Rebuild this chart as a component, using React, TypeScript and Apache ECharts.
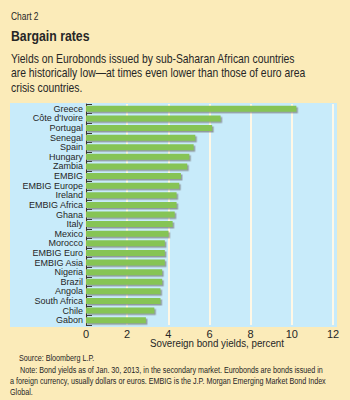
import React, { useEffect, useRef } from "react";
import * as echarts from "echarts";

const categories = [
  "Greece", "Côte d'Ivoire", "Portugal", "Senegal", "Spain", "Hungary", "Zambia",
  "EMBIG", "EMBIG Europe", "Ireland", "EMBIG Africa", "Ghana", "Italy", "Mexico",
  "Morocco", "EMBIG Euro", "EMBIG Asia", "Nigeria", "Brazil", "Angola",
  "South Africa", "Chile", "Gabon",
];
const yields = [
  10.22, 6.54, 6.13, 5.31, 5.23, 5.02, 4.92,
  4.61, 4.53, 4.4, 4.4, 4.31, 4.21, 4.01,
  3.83, 3.83, 3.83, 3.7, 3.7, 3.62,
  3.62, 3.32, 2.91,
];
const xTicks = [0, 2, 4, 6, 8, 10, 12];

const chartLabel = "Chart 2";
const titleText = "Bargain rates";
const subtitleLines = [
  "Yields on Eurobonds issued by sub-Saharan African countries",
  "are historically low\u2014at times even lower than those of euro area",
  "crisis countries.",
];
const xAxisName = "Sovereign bond yields, percent";
const sourceText = "Source: Bloomberg L.P.";
const noteLines = [
  "Note: Bond yields as of Jan. 30, 2013, in the secondary market. Eurobonds are bonds issued in",
  "a foreign currency, usually dollars or euros. EMBIG is the J.P. Morgan Emerging Market Bond Index",
  "Global.",
];

const FONT = "'Liberation Sans', Arial, sans-serif";
const TEXT = "#262626";

function txt(text: string, x: number, y: number, font: string, sx: number) {
  return {
    type: "text",
    x,
    y,
    scaleX: sx,
    style: { text, font, fill: TEXT, textVerticalAlign: "top" },
  };
}

export default function App() {
  const ref = useRef<HTMLDivElement>(null);
  useEffect(() => {
    if (!ref.current) return;
    const chart = echarts.init(ref.current, undefined, { renderer: "svg" });
    const graphics: any[] = [
      { type: "rect", shape: { x: 10, y: 103, width: 327, height: 224 }, style: { fill: "#C8EBFA" }, z: -10 },
      txt(chartLabel, 11, 11, `10.5px ${FONT}`, 0.8),
      txt(titleText, 11, 29, `bold 15px ${FONT}`, 0.82),
    ];
    subtitleLines.forEach((t, i) => {
      graphics.push(txt(t, 11, 52 + i * 14.4, `12.5px ${FONT}`, 0.83));
    });
    graphics.push(txt(sourceText, 19, 354, `9px ${FONT}`, 0.8));
    noteLines.forEach((t, i) => {
      graphics.push(txt(t, i === 0 ? 20 : 10, 366 + i * 11, `9px ${FONT}`, 0.8));
    });
    graphics.push({
      type: "text",
      x: 217,
      y: 337,
      scaleX: 0.85,
      style: { text: xAxisName, font: `11.5px ${FONT}`, fill: TEXT, textAlign: "center", textVerticalAlign: "top" },
    });
    chart.setOption({
      animation: false,
      backgroundColor: "#FBEBB9",
      graphic: graphics,
      grid: { left: 86, right: 17, top: 104, height: 221, containLabel: false },
      xAxis: {
        type: "value",
        min: 0,
        max: 12,
        interval: 2,
        axisLine: { show: false },
        axisTick: { show: false },
        axisLabel: { fontFamily: FONT, fontSize: 11, color: TEXT, margin: 3, formatter: (v: number) => (xTicks.includes(v) ? String(v) : "") },
        splitLine: { show: true, lineStyle: { color: "#FFF8E6", width: 2 } },
      },
      yAxis: {
        type: "category",
        data: categories,
        inverse: true,
        axisLine: { show: true, lineStyle: { color: "#333", width: 1.2 } },
        axisTick: { show: true, inside: true, length: 6, lineStyle: { color: "#333", width: 1 } },
        axisLabel: { fontFamily: FONT, fontSize: 9, color: TEXT, margin: 3, interval: 0 },
      },
      series: [
        {
          type: "bar",
          data: yields,
          barWidth: 6,
          itemStyle: {
            color: "#86C454",
            shadowColor: "rgba(120,120,120,0.7)",
            shadowOffsetX: 1.5,
            shadowOffsetY: 1.5,
            shadowBlur: 0,
          },
        },
      ],
    });
    return () => chart.dispose();
  }, []);
  return <div ref={ref} style={{ width: 350, height: 400, position: "absolute", left: 0, top: 0 }} />;
}
